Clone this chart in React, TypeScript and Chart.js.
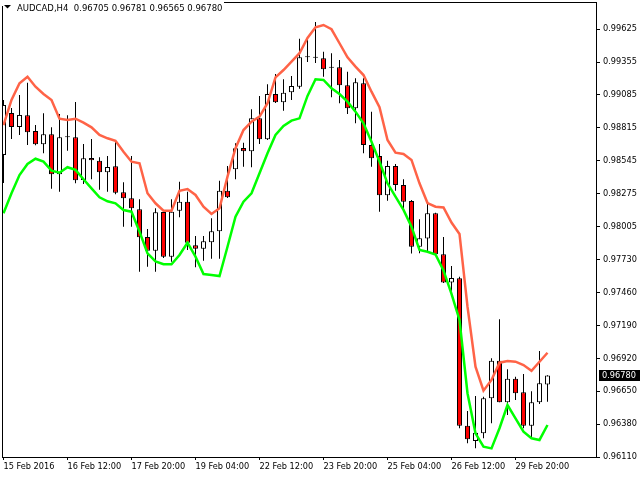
import React, { useEffect, useRef } from "react";
import { Chart, registerables } from "chart.js";

Chart.register(...registerables);

const symbolName = "AUDCAD,H4";
const headerOpen = "0.96705";
const headerHigh = "0.96781";
const headerLow = "0.96565";
const headerClose = "0.96780";
const lastPrice = 0.9678;

const opens = [
  0.98592, 0.98937, 0.98822, 0.98918, 0.98789, 0.9868, 0.98762, 0.98433, 0.98737, 0.98737,
  0.98386, 0.98567, 0.98545, 0.9845, 0.98499, 0.98285, 0.98236, 0.98146, 0.97918, 0.97805,
  0.98123, 0.97756, 0.98134, 0.98208, 0.9785, 0.97822, 0.97874, 0.97965, 0.98298, 0.98474,
  0.98649, 0.98622, 0.98893, 0.98721, 0.99093, 0.99025, 0.99107, 0.99153, 0.99395, 0.99395,
  0.99387, 0.99309, 0.99313, 0.99165, 0.98976, 0.99181, 0.98674, 0.98584, 0.98261, 0.98501,
  0.98345, 0.98214, 0.97838, 0.97906, 0.98113, 0.97776, 0.97544, 0.97579, 0.96367, 0.96242,
  0.96305, 0.96592, 0.96901, 0.9656, 0.96753, 0.96642, 0.96367, 0.9656, 0.96705,
];
const highs = [
  0.99044, 0.98978, 0.99085, 0.99186, 0.98838, 0.98935, 0.98819, 0.98929, 0.98918, 0.99027,
  0.98682, 0.98723, 0.98573, 0.98584, 0.98699, 0.98368, 0.98584, 0.98228, 0.97984, 0.98154,
  0.9814, 0.98228, 0.98372, 0.9829, 0.97926, 0.97926, 0.98072, 0.98381, 0.98501, 0.98688,
  0.98693, 0.98967, 0.99077, 0.99173, 0.99258, 0.99214, 0.99241, 0.99548, 0.99553, 0.99685,
  0.99441, 0.99428, 0.99373, 0.99276, 0.99222, 0.99222, 0.98948, 0.98682, 0.98545, 0.98518,
  0.98392, 0.98222, 0.98063, 0.98197, 0.98118, 0.97918, 0.9768, 0.97592, 0.96488, 0.96611,
  0.96606, 0.96921, 0.97242, 0.96831, 0.9677, 0.96792, 0.9665, 0.96981, 0.96781,
];
const lows = [
  0.98362, 0.98723, 0.98756, 0.98674, 0.98672, 0.98606, 0.98315, 0.9829, 0.98627, 0.98359,
  0.98354, 0.98392, 0.98307, 0.9829, 0.98269, 0.98003, 0.98003, 0.97633, 0.97674, 0.97633,
  0.97745, 0.97715, 0.9808, 0.97811, 0.97669, 0.97723, 0.9774, 0.9774, 0.98238, 0.98392,
  0.98496, 0.98491, 0.98682, 0.98715, 0.99019, 0.98956, 0.99044, 0.99137, 0.99356, 0.99348,
  0.99235, 0.99066, 0.99017, 0.98929, 0.98852, 0.98606, 0.98496, 0.98126, 0.98216, 0.98298,
  0.98126, 0.97782, 0.97784, 0.97797, 0.9777, 0.9754, 0.97477, 0.96346, 0.96223, 0.96181,
  0.96264, 0.96387, 0.9656, 0.96455, 0.96578, 0.96346, 0.96272, 0.96546, 0.96565,
];
const closes = [
  0.99003, 0.98822, 0.98921, 0.98778, 0.9868, 0.98762, 0.98433, 0.98737, 0.98737, 0.98384,
  0.98565, 0.98548, 0.9845, 0.98493, 0.98282, 0.98236, 0.98154, 0.97916, 0.97805, 0.98121,
  0.97756, 0.98126, 0.98208, 0.97871, 0.97822, 0.97883, 0.97965, 0.98298, 0.98244, 0.98647,
  0.98622, 0.98893, 0.98721, 0.99093, 0.99025, 0.99104, 0.99159, 0.99395, 0.99395, 0.99391,
  0.99296, 0.99309, 0.99165, 0.98976, 0.99189, 0.98674, 0.98565, 0.98261, 0.98501, 0.98345,
  0.98208, 0.97838, 0.97907, 0.98113, 0.97776, 0.97544, 0.97581, 0.96367, 0.96255, 0.9631,
  0.96592, 0.96901, 0.9656, 0.96753, 0.96634, 0.96367, 0.9656, 0.96716, 0.9678,
];
const upperBand = [
  0.98838, 0.99044, 0.99181, 0.99235, 0.99153, 0.99093, 0.99044, 0.9889, 0.98879, 0.9889,
  0.98857, 0.98819, 0.98756, 0.98729, 0.98709, 0.98619, 0.98537, 0.98524, 0.98277, 0.98195,
  0.98134, 0.98134, 0.98298, 0.98312, 0.98263, 0.98167, 0.98107, 0.98154, 0.98414, 0.98647,
  0.98797, 0.98866, 0.98907, 0.99017, 0.9923, 0.9929, 0.99359, 0.99428, 0.99553, 0.99641,
  0.9966, 0.99625, 0.9951, 0.99395, 0.99318, 0.99249, 0.99112, 0.98984, 0.98715, 0.98611,
  0.986, 0.98551, 0.98359, 0.98197, 0.98167, 0.9816, 0.98037, 0.97943, 0.97345, 0.96852,
  0.96655, 0.96743, 0.96885, 0.96899, 0.96893, 0.96866, 0.96819, 0.96893, 0.96967,
];
const lowerBand = [
  0.98113, 0.98277, 0.98427, 0.98518, 0.98561, 0.98537, 0.98463, 0.98446, 0.98491, 0.98469,
  0.98392, 0.98318, 0.98244, 0.98211, 0.98195, 0.9814, 0.98126, 0.97962, 0.97784, 0.97717,
  0.97694, 0.97694, 0.9777, 0.97871, 0.97756, 0.97614, 0.97606, 0.97597, 0.97838, 0.98085,
  0.98208, 0.98277, 0.98441, 0.98606, 0.98756, 0.9883, 0.98874, 0.98893, 0.99077, 0.99214,
  0.99208, 0.9914, 0.99093, 0.9903, 0.98948, 0.98852, 0.98701, 0.98537, 0.98359, 0.98249,
  0.9814, 0.98003, 0.97811, 0.97797, 0.97774, 0.97643, 0.9745, 0.97236, 0.96634, 0.96305,
  0.96195, 0.96181, 0.96346, 0.96537, 0.96428, 0.96318, 0.96264, 0.9625, 0.96373,
];

const xTickBars = [0, 8, 16, 24, 32, 40, 48, 56, 64];
const xTickLabels = [
  "15 Feb 2016", "16 Feb 12:00", "17 Feb 20:00", "19 Feb 04:00", "22 Feb 12:00",
  "23 Feb 20:00", "25 Feb 04:00", "26 Feb 12:00", "29 Feb 20:00",
];
const yTickLabels = [
  "0.96110", "0.96380", "0.96650", "0.96920", "0.97190", "0.97460", "0.97730",
  "0.98005", "0.98275", "0.98545", "0.98815", "0.99085", "0.99355", "0.99625",
];
const yMin = 0.9611;
const yMax = 0.99849;

const FONT = "DejaVu Sans";

// fixed frame geometry of the plot area (pixels)
const FRAME_LEFT = 2;
const FRAME_TOP = 2;
const FRAME_RIGHT = 597;
const FRAME_BOTTOM = 457;

export default function App() {
  const ref = useRef<HTMLCanvasElement>(null);

  useEffect(() => {
    const canvas = ref.current;
    if (!canvas) return;
    const idx = closes.map((_, i) => i);
    const bodyColors = idx.map((i) => (closes[i] < opens[i] ? "#FF0000" : "#FFFFFF"));

    const zeroPad = (s: any) => {
      s.paddingLeft = 0;
      s.paddingRight = 0;
      s.paddingTop = 0;
      s.paddingBottom = 0;
    };

    const framePlugin = {
      id: "mtFrame",
      afterDraw(chart: any) {
        const { ctx, scales } = chart;
        ctx.save();
        ctx.fillStyle = "#000000";
        const L = FRAME_LEFT;
        const T = FRAME_TOP;
        const R = FRAME_RIGHT;
        const B = FRAME_BOTTOM;
        ctx.fillRect(L, T, R - L, 1);
        ctx.fillRect(L, B, R - L, 1);
        ctx.fillRect(L, T, 1, B - T + 1);
        ctx.fillRect(R - 1, T, 1, B - T + 1);

        // header
        ctx.fillStyle = "#FFFFFF";
        ctx.fillRect(0, 0, 224, 6);
        ctx.fillStyle = "#000000";
        ctx.beginPath();
        ctx.moveTo(4, 5);
        ctx.lineTo(11, 5);
        ctx.lineTo(7.5, 8.5);
        ctx.closePath();
        ctx.fill();
        ctx.font = `8.5px "${FONT}"`;
        ctx.textBaseline = "alphabetic";
        ctx.textAlign = "left";
        ctx.fillText(
          `${symbolName}  ${headerOpen} ${headerHigh} ${headerLow} ${headerClose}`,
          17,
          11
        );

        // current price label
        const py = scales.y.getPixelForValue(lastPrice);
        ctx.fillStyle = "#000000";
        ctx.fillRect(599, Math.round(py) - 5, 41, 11);
        ctx.fillStyle = "#FFFFFF";
        ctx.font = `8.2px "${FONT}"`;
        ctx.textBaseline = "middle";
        ctx.fillText(headerClose, 602, Math.round(py) + 0.5);
        ctx.restore();
      },
    };

    const chart = new Chart(canvas, {
      type: "bar",
      data: {
        datasets: [
          {
            type: "line",
            label: "upper",
            data: idx.map((i) => ({ x: i, y: upperBand[i] })),
            borderColor: "#FF6347",
            borderWidth: 2.5,
            pointRadius: 0,
            tension: 0,
            fill: false,
            order: 0,
          } as any,
          {
            type: "line",
            label: "lower",
            data: idx.map((i) => ({ x: i, y: lowerBand[i] })),
            borderColor: "#00FF00",
            borderWidth: 2.5,
            pointRadius: 0,
            tension: 0,
            fill: false,
            order: 0,
          } as any,
          {
            type: "bar",
            label: "body",
            data: idx.map((i) => ({ x: i, y: [opens[i], closes[i]] })),
            backgroundColor: bodyColors,
            borderColor: "#000",
            borderWidth: 1,
            borderSkipped: false,
            barThickness: 5,
            minBarLength: 1,
            grouped: false,
            inflateAmount: 0,
            order: 1,
          } as any,
          {
            type: "bar",
            label: "wick",
            data: idx.map((i) => ({ x: i, y: [lows[i], highs[i]] })),
            backgroundColor: "#000",
            borderWidth: 0,
            barThickness: 1,
            grouped: false,
            inflateAmount: 0,
            order: 2,
          } as any,
        ],
      },
      options: {
        animation: false,
        responsive: false,
        devicePixelRatio: 1,
        layout: { padding: { left: 2, top: 2, right: 0, bottom: 0 } },
        plugins: { legend: { display: false }, tooltip: { enabled: false }, title: { display: false } },
        scales: {
          x: {
            type: "linear",
            position: "bottom",
            offset: false,
            min: -0.1875,
            max: 74.1875,
            afterBuildTicks: (s: any) => {
              s.ticks = xTickBars.map((v) => ({ value: v }));
            },
            afterFit: (s: any) => {
              s.height = 23;
              zeroPad(s);
            },
            border: { display: false },
            grid: { offset: false, drawOnChartArea: false, drawTicks: true, tickLength: 3, color: "#000", tickColor: "#000" },
            ticks: {
              autoSkip: false,
              maxRotation: 0,
              minRotation: 0,
              align: "start",
              padding: 2,
              color: "#000",
              font: { family: FONT, size: 8.2 },
              callback: (_v: any, i: number) => xTickLabels[i],
            },
          },
          y: {
            type: "linear",
            position: "right",
            min: yMin,
            max: yMax,
            afterBuildTicks: (s: any) => {
              s.ticks = yTickLabels.map((t) => ({ value: parseFloat(t) }));
            },
            afterFit: (s: any) => {
              s.width = 43;
              zeroPad(s);
            },
            border: { display: false },
            grid: { drawOnChartArea: false, drawTicks: true, tickLength: 3, color: "#000", tickColor: "#000" },
            ticks: {
              autoSkip: false,
              padding: 3,
              color: "#000",
              font: { family: FONT, size: 8.2 },
              callback: (_v: any, i: number) => yTickLabels[i],
            },
          },
        },
      },
      plugins: [framePlugin],
    } as any);

    return () => chart.destroy();
  }, []);

  return (
    <div style={{ position: "fixed", left: 0, top: 0, width: 640, height: 480, background: "#FFFFFF" }}>
      <canvas ref={ref} width={640} height={480} style={{ display: "block" }} />
    </div>
  );
}
